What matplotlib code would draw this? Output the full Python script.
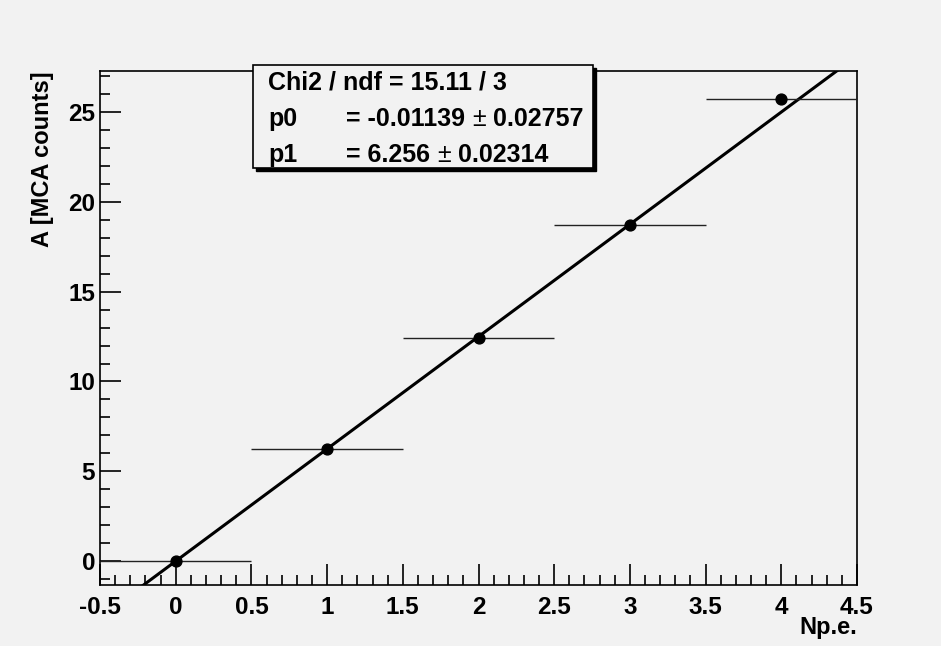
#!/usr/bin/env python3
"""Linear fit of MCA amplitude vs number of photoelectrons (ROOT-style)."""

import numpy as np
import matplotlib
matplotlib.use("Agg")
import matplotlib.pyplot as plt
from matplotlib.ticker import MultipleLocator

# data
npe = [0, 1, 2, 3, 4]
amp = [0.0, 6.25, 12.45, 18.72, 25.72]
npe_err = [0.5, 0.5, 0.5, 0.5, 0.5]

# fit result
chi2, ndf = 15.11, 3
p0, p0_err = -0.01139, 0.02757
p1, p1_err = 6.256, 0.02314

BG = "#f2f2f2"
plt.rcParams["font.family"] = ["Liberation Sans", "DejaVu Sans"]
plt.rcParams["font.weight"] = "bold"

fig = plt.figure(figsize=(9.41, 6.46), dpi=100, facecolor=BG)
ax = fig.add_axes([100 / 941, 1 - 585 / 646, 757 / 941, 514 / 646], facecolor=BG)

ax.errorbar(npe, amp, xerr=npe_err, fmt="o", color="black", ms=7.8,
            elinewidth=1, ecolor="#222222", capsize=0, zorder=3)

xlim = (-0.5, 4.5)
ylim = (-1.34, 27.3)
xf = np.array(xlim)
ax.plot(xf, p0 + p1 * xf, color="black", lw=2.2, zorder=2)
ax.set_xlim(*xlim)
ax.set_ylim(*ylim)

ax.xaxis.set_major_locator(MultipleLocator(0.5))
ax.xaxis.set_minor_locator(MultipleLocator(0.1))
ax.yaxis.set_major_locator(MultipleLocator(5))
ax.yaxis.set_minor_locator(MultipleLocator(1))
ax.tick_params(which="both", direction="in", top=False, right=False,
               labelsize=17.5, width=1.2)
ax.tick_params(axis="x", pad=8)
ax.tick_params(axis="y", pad=3.5)
ax.tick_params(which="major", length=15)
ax.tick_params(which="minor", length=7)
ax.set_xticks([-0.5, 0, 0.5, 1, 1.5, 2, 2.5, 3, 3.5, 4, 4.5])
ax.set_xticklabels(["-0.5", "0", "0.5", "1", "1.5", "2", "2.5", "3", "3.5", "4", "4.5"])
for s in ax.spines.values():
    s.set_linewidth(1.2)

ax.set_xlabel("Np.e.", fontsize=17, fontweight="bold", loc="right", labelpad=-2)
ax.set_ylabel("A [MCA counts]", fontsize=17, fontweight="bold", loc="top", labelpad=10)

# stats box
bx0, by0, bx1, by1 = 253 / 941, 1 - 168 / 646, 593 / 941, 1 - 65 / 646
fig.patches.append(plt.Rectangle((bx0 + 3 / 941, by0 - 3 / 646), bx1 - bx0, by1 - by0,
                                 transform=fig.transFigure, facecolor="black",
                                 edgecolor="black", zorder=5))
fig.patches.append(plt.Rectangle((bx0, by0), bx1 - bx0, by1 - by0,
                                 transform=fig.transFigure, facecolor=BG,
                                 edgecolor="black", lw=1.2, zorder=6))
rows = [("Chi2 / ndf = %.2f / %d" % (chi2, ndf), None),
        ("p0", ("= %.5f " % p0, " %.5f" % p0_err)),
        ("p1", ("= %.3f " % p1, " %.5f" % p1_err))]
renderer = fig.canvas.get_renderer()
inv = fig.transFigure.inverted()
for i, (name, val) in enumerate(rows):
    y = 1 - (83 + i * 36) / 646
    fig.text(268 / 941, y, name, fontsize=18, fontweight="bold", va="center", zorder=7)
    if val:
        t = fig.text(346 / 941, y, val[0], fontsize=18, fontweight="bold",
                     va="center", zorder=7)
        x = inv.transform((t.get_window_extent(renderer).x1, 0))[0]
        t = fig.text(x, y, "\u00b1", fontsize=18, fontweight="normal",
                     va="center", zorder=7)
        x = inv.transform((t.get_window_extent(renderer).x1, 0))[0]
        fig.text(x, y, val[1], fontsize=18, fontweight="bold", va="center", zorder=7)

fig.savefig("out.png", dpi=100, facecolor=BG)
